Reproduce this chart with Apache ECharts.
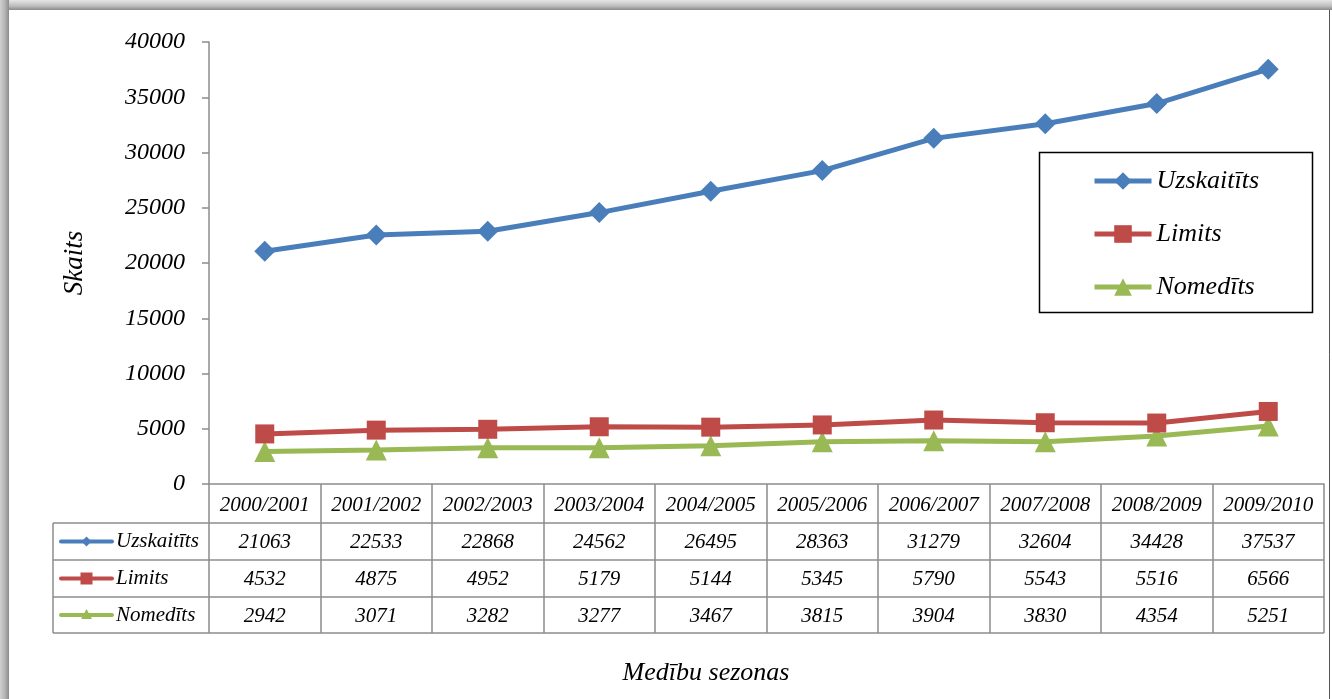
<!DOCTYPE html>
<html>
<head>
<meta charset="utf-8">
<title>Medību sezonas</title>
<script src="https://cdn.jsdelivr.net/npm/echarts@6/dist/echarts.min.js"></script>
<style>
  html, body { margin: 0; padding: 0; background: #fff; }
  #chart { width: 1332px; height: 699px; }
</style>
</head>
<body>
<div id="chart"></div>
<script>
// dati
const seasons = ['2000/2001', '2001/2002', '2002/2003', '2003/2004', '2004/2005',
  '2005/2006', '2006/2007', '2007/2008', '2008/2009', '2009/2010']
const uzskaititsData = [21063, 22533, 22868, 24562, 26495, 28363, 31279, 32604, 34428, 37537]
const limitsData = [4532, 4875, 4952, 5179, 5144, 5345, 5790, 5543, 5516, 6566]
const nomeditsData = [2942, 3071, 3282, 3277, 3467, 3815, 3904, 3830, 4354, 5251]
const seriesNames = ['Uzskaitīts', 'Limits', 'Nomedīts']
const yTicks = [0, 5000, 10000, 15000, 20000, 25000, 30000, 35000, 40000]

const colors = ['#4A7EBB', '#BE4B48', '#98B954']
const symbols = ['diamond', 'rect', 'triangle']
const FONT = '"Liberation Serif", "Times New Roman", serif'

// izkārtojums
const W = 1332, H = 699
const gridLeft = 209, gridRight = 1324, gridTop = 42, gridBottom = 484
const tableLeft = 53
const rowLines = [523, 560, 597, 633] // rindu robežas
const lineColor = '#8c8c8c'

const chart = echarts.init(document.getElementById('chart'), null, { renderer: 'canvas' })

// tabula (leģendas kolonna + vērtības)
function buildTable() {
  const g = []
  const colW = (gridRight - gridLeft) / seasons.length
  for (let i = 0; i < rowLines.length; i++) {
    g.push({ type: 'line', shape: { x1: tableLeft, y1: rowLines[i], x2: gridRight, y2: rowLines[i] },
      style: { stroke: lineColor, lineWidth: 1.5 } })
  }
  g.push({ type: 'line', shape: { x1: tableLeft, y1: rowLines[0], x2: tableLeft, y2: rowLines[3] },
    style: { stroke: lineColor, lineWidth: 1.5 } })

  const rows = [uzskaititsData, limitsData, nomeditsData]
  rows.forEach((vals, r) => {
    const cy = (rowLines[r] + rowLines[r + 1]) / 2
    // leģendas ikona
    g.push({ type: 'line', shape: { x1: 61, y1: cy, x2: 112, y2: cy },
      style: { stroke: colors[r], lineWidth: 4, lineCap: 'round' } })
    let marker
    if (r === 0) {
      marker = { type: 'polygon', shape: { points: [[86.5, cy - 5], [91.5, cy], [86.5, cy + 5], [81.5, cy]] } }
    } else if (r === 1) {
      marker = { type: 'rect', shape: { x: 80.5, y: cy - 6, width: 12, height: 12 } }
    } else {
      marker = { type: 'polygon', shape: { points: [[86.5, cy - 6], [92, cy + 4], [81, cy + 4]] } }
    }
    marker.style = { fill: colors[r] }
    g.push(marker)
    g.push({ type: 'text', x: 116, y: cy, style: { text: seriesNames[r], font: 'italic 21px ' + FONT,
      fill: '#000', textVerticalAlign: 'middle', textAlign: 'left' } })
    // vērtības
    vals.forEach((v, i) => {
      g.push({ type: 'text', x: gridLeft + colW * (i + 0.5), y: cy + 1,
        style: { text: String(v), font: 'italic 21px ' + FONT, fill: '#000',
          textAlign: 'center', textVerticalAlign: 'middle' } })
    })
  })

  // leģendas rāmis
  g.push({ type: 'rect', shape: { x: 1039.5, y: 152.5, width: 273, height: 160 },
    style: { fill: 'none', stroke: '#000', lineWidth: 1.5 } })

  // ēna augšā un kreisajā pusē
  g.push({ type: 'rect', shape: { x: 0, y: 0, width: W, height: 10 },
    style: { fill: new echarts.graphic.LinearGradient(0, 0, 0, 1, [
      { offset: 0, color: '#e6e6e6' }, { offset: 0.6, color: '#bdbdbd' }, { offset: 1, color: '#8a8a8a' }]) } })
  g.push({ type: 'rect', shape: { x: 0, y: 0, width: 9, height: H },
    style: { fill: new echarts.graphic.LinearGradient(0, 0, 1, 0, [
      { offset: 0, color: '#d0d0d0' }, { offset: 0.6, color: '#b0b0b0' }, { offset: 1, color: '#8a8a8a' }]) } })
  g.push({ type: 'line', shape: { x1: 1329.5, y1: 10, x2: 1329.5, y2: H },
    style: { stroke: '#555', lineWidth: 1 } })

  // ass nosaukums
  g.push({ type: 'text', x: 706, y: 673, style: { text: 'Medību sezonas', font: 'italic 26px ' + FONT,
    fill: '#000', textAlign: 'center', textVerticalAlign: 'middle' } })
  return g
}

function makeSeries(name, data, idx) {
  return {
    name: name,
    type: 'line',
    data: data,
    symbol: symbols[idx],
    symbolSize: idx === 1 ? 19 : 21,
    lineStyle: { color: colors[idx], width: 5 },
    itemStyle: { color: colors[idx] },
    z: 3 - idx
  }
}

chart.setOption({
  animation: false,
  backgroundColor: '#fff',
  grid: { left: gridLeft, right: W - gridRight, top: gridTop, bottom: H - gridBottom },
  legend: {
    orient: 'vertical',
    left: 1087,
    top: 163,
    itemWidth: 57,
    itemHeight: 22,
    itemGap: 27,
    lineStyle: { width: 5 },
    textStyle: { fontFamily: FONT, fontStyle: 'italic', fontSize: 26, color: '#000' },
    data: seriesNames
  },
  xAxis: {
    type: 'category',
    data: seasons,
    boundaryGap: true,
    axisLine: { lineStyle: { color: lineColor, width: 1.5 } },
    axisTick: { show: true, interval: 0, length: rowLines[3] - gridBottom, lineStyle: { color: lineColor, width: 1.5 } },
    axisLabel: { interval: 0, margin: 11, fontFamily: FONT, fontStyle: 'italic', fontSize: 21, color: '#000' }
  },
  yAxis: {
    type: 'value',
    min: yTicks[0],
    max: yTicks[yTicks.length - 1],
    interval: 5000,
    name: 'Skaits',
    nameLocation: 'middle',
    nameGap: 121,
    nameTextStyle: { fontFamily: FONT, fontStyle: 'italic', fontSize: 27, color: '#000' },
    axisLine: { show: true, lineStyle: { color: lineColor, width: 1.5 } },
    axisTick: { show: true, length: 7, lineStyle: { color: lineColor, width: 1.5 } },
    axisLabel: { margin: 24, fontFamily: FONT, fontStyle: 'italic', fontSize: 24, color: '#000',
      formatter: v => String(v) },
    splitLine: { show: false }
  },
  series: [
    makeSeries(seriesNames[0], uzskaititsData, 0),
    makeSeries(seriesNames[1], limitsData, 1),
    makeSeries(seriesNames[2], nomeditsData, 2)
  ],
  graphic: buildTable()
})
</script>
</body>
</html>
